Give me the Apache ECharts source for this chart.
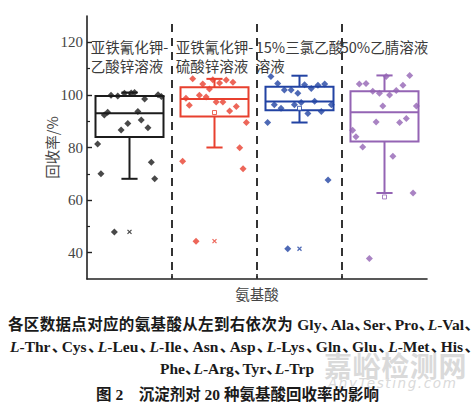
<!DOCTYPE html>
<html><head><meta charset="utf-8">
<script src="https://cdn.jsdelivr.net/npm/echarts@6/dist/echarts.min.js"></script>
<style>
html,body{margin:0;padding:0;background:#fff;}
#wrap{position:relative;width:476px;height:406px;overflow:hidden;background:#fff;}
#chart{position:absolute;left:0;top:0;width:476px;height:406px;}
.cap{position:absolute;white-space:nowrap;font-weight:700;color:#1a1a1a;font-family:"Liberation Serif","Noto Sans CJK SC",serif;font-size:15.5px;line-height:16px;}
.cap i{font-style:italic;}
.just{text-align:justify;text-align-last:justify;}
.ctr{display:inline-block;transform:translateX(-50%);}
.dun{letter-spacing:-7px;}
.wm{position:absolute;color:#dadada;white-space:nowrap;}
</style></head>
<body>
<div id="wrap">
  <div class="wm" style="left:324px;top:356px;font-family:'Noto Sans CJK SC';font-size:28px;line-height:18px;font-weight:700;letter-spacing:0.6px;">嘉峪检测网</div>
  <div class="wm" style="left:328px;top:378px;font-family:'DejaVu Sans';font-style:italic;font-size:13.5px;line-height:10px;letter-spacing:1.6px;">AnyTesting.com</div>
  <div id="chart"></div>
  <div id="l1" class="cap just" style="left:8px;top:317px;width:465px;"></div>
  <div id="l2" class="cap just" style="left:10px;top:338.7px;width:463px;"></div>
  <div id="l3" class="cap ctr" style="left:237px;top:361px;"></div>
  <div id="l4" class="cap ctr" style="left:237.5px;top:387px;"></div>
</div>
<script>
// ---------- data ----------
const groupLabels = [['亚铁氰化钾-', '乙酸锌溶液'], ['亚铁氰化钾-', '硫酸锌溶液'], ['15%三氯乙酸', '溶液'], ['50%乙腈溶液']];
const aminoAcids = ['Gly', 'Ala', 'Ser', 'Pro', 'L-Val', 'L-Thr', 'Cys', 'L-Leu', 'L-Ile', 'Asn', 'Asp', 'L-Lys', 'Gln', 'Glu', 'L-Met', 'His', 'Phe', 'L-Arg', 'Tyr', 'L-Trp'];
const recoveryFerroZnAc = [81.3, 70.0, 92.4, 93.4, 99.9, 47.9, 99.6, 86.7, 100.6, 89.1, 100.7, 100.9, 93.7, 90.5, 98.4, 87.5, 74.4, 68.1, 100.1, 99.4];
const recoveryFerroZnSO4 = [74.8, 98.7, 96.1, 106.1, 44.4, 99.9, 104.1, 99.2, 102.2, 105.8, 97.3, 104.5, 97.3, 105.7, 93.9, 104.8, 95.6, 79.9, 71.9, 89.5];
const recoveryTCA = [89.5, 107.0, 96.3, 104.3, 94.9, 101.9, 41.5, 101.9, 96.3, 100.6, 97.1, 103.9, 92.9, 102.4, 97.6, 103.7, 93.7, 104.1, 67.6, 96.3];
const recoveryACN = [86.6, 84.1, 104.1, 80.2, 104.3, 37.8, 101.4, 89.7, 100.6, 95.8, 107.0, 100.0, 76.7, 101.7, 89.5, 103.7, 91.0, 107.4, 62.7, 95.8];
const boxLow = [68.1, 80.0, 89.5, 62.7];
const boxQ1 = [84.0, 91.8, 94.2, 82.3];
const boxMedian = [93.0, 98.4, 97.5, 93.4];
const boxQ3 = [99.6, 102.9, 103.1, 101.4];
const boxHigh = [100.9, 106.1, 107.3, 107.4];
const meanMarks = [null, 93.3, 94.9, 61.2];
const crossMarks = [47.9, 44.4, 41.5, null];
const yTickLabels = [40, 60, 80, 100, 120];
const yMinorTicks = [50, 70, 90, 110];
const dividers = [1, 2, 3];
const captionTitle = '图 2　沉淀剂对 20 种氨基酸回收率的影响';
const captionLead = '各区数据点对应的氨基酸从左到右依次为 ';

// ---------- styles ----------
const colors = ['#1c1c1c', '#e8402f', '#2243a3', '#9464b4'];
const allSeries = [recoveryFerroZnAc, recoveryFerroZnSO4, recoveryTCA, recoveryACN];
const labelFont = '14.5px "Noto Sans CJK SC"';
const measureCtx = document.createElement('canvas').getContext('2d');
measureCtx.font = labelFont;

// caption
function fmtAA(a) { return a.indexOf('L-') === 0 ? '<i>L</i>-' + a.slice(2) : a; }
const dun = '<span class="dun">、</span>';
document.getElementById('l1').innerHTML = captionLead + aminoAcids.slice(0, 5).map(fmtAA).join(dun) + dun;
document.getElementById('l2').innerHTML = aminoAcids.slice(5, 16).map(fmtAA).join(dun) + dun;
document.getElementById('l3').innerHTML = aminoAcids.slice(16).map(fmtAA).join(dun);
document.getElementById('l4').textContent = captionTitle;

const chart = echarts.init(document.getElementById('chart'), null, { renderer: 'svg' });

function renderBox(params, api) {
  const g = api.value(0);
  const c = colors[g];
  const p = [1, 2, 3, 4, 5].map(k => api.coord([g, api.value(k)]));
  const cx = p[0][0];
  const band = api.size([1, 0])[0];
  const hw = band * 0.4, cap = band * 0.095;
  const ls = { stroke: c, lineWidth: 2, fill: 'none' };
  return {
    type: 'group', children: [
      { type: 'line', shape: { x1: cx, y1: p[3][1], x2: cx, y2: p[4][1] }, style: ls },
      { type: 'line', shape: { x1: cx, y1: p[1][1], x2: cx, y2: p[0][1] }, style: ls },
      { type: 'line', shape: { x1: cx - cap, y1: p[4][1], x2: cx + cap, y2: p[4][1] }, style: ls },
      { type: 'line', shape: { x1: cx - cap, y1: p[0][1], x2: cx + cap, y2: p[0][1] }, style: ls },
      { type: 'rect', shape: { x: cx - hw, y: p[3][1], width: 2 * hw, height: p[1][1] - p[3][1] }, style: ls },
      { type: 'line', shape: { x1: cx - hw, y1: p[2][1], x2: cx + hw, y2: p[2][1] }, style: ls }
    ]
  };
}

function renderLabel(params, api) {
  const g = api.value(0);
  const lines = groupLabels[g];
  const top = api.coord([g, 118.3]);
  const w1 = measureCtx.measureText(lines[0]).width;
  const x0 = top[0] - w1 / 2;
  const children = lines.map((t, k) => ({
    type: 'text', x: x0, y: top[1] + k * 18.5,
    style: { text: t, font: labelFont, fill: '#3a3a3a', align: 'left', verticalAlign: 'middle' }
  }));
  return { type: 'group', children };
}

const pointSeries = allSeries.map((vals, g) => ({
  type: 'scatter', xAxisIndex: 1, yAxisIndex: 0,
  symbol: 'diamond', symbolSize: 7,
  itemStyle: { color: colors[g] },
  z: 5,
  data: vals.map((v, i) => [g + 0.5 + (i - (aminoAcids.length - 1) / 2) * 0.0395, v]),
  markLine: g === 0 ? {
    silent: true, symbol: ['none', 'none'], animation: false,
    label: { show: false },
    lineStyle: { color: '#333', width: 2, type: [8, 6] },
    data: dividers.map(d => [{ coord: [d, 127] }, { coord: [d, 30] }])
  } : undefined
}));

chart.setOption({
  animation: false,
  grid: { left: 87, right: 49, top: 16, bottom: 127 },
  xAxis: [
    { type: 'category', data: groupLabels.map(l => l.join('')), show: false, boundaryGap: true },
    {
      type: 'value', min: 0, max: 4, position: 'bottom',
      axisLine: { show: true, lineStyle: { color: '#222', width: 1.6 } },
      axisTick: { show: true, inside: true, length: 5, customValues: dividers, lineStyle: { color: '#222', width: 1.6 } },
      axisLabel: { show: false },
      splitLine: { show: false },
      name: '氨基酸', nameLocation: 'middle', nameGap: 7,
      nameTextStyle: { fontSize: 14.5, color: '#444', fontFamily: 'Noto Sans CJK SC', verticalAlign: 'top' }
    }
  ],
  yAxis: [
    {
      type: 'value', min: 30, max: 130,
      axisLine: { show: true, lineStyle: { color: '#222', width: 1.6 } },
      axisTick: { show: true, inside: true, length: 5, customValues: yTickLabels, lineStyle: { color: '#222', width: 1.4 } },
      axisLabel: { customValues: yTickLabels, fontFamily: 'Liberation Serif', fontSize: 15, color: '#444', margin: 4 },
      splitLine: { show: false },
      name: '回收率/%', nameLocation: 'middle', nameGap: 28, nameMoveOverlap: false,
      nameTextStyle: { fontSize: 14.5, color: '#444', fontFamily: 'Noto Sans CJK SC' }
    },
    {
      type: 'value', min: 30, max: 130, position: 'left',
      axisLine: { show: false },
      axisTick: { show: true, inside: true, length: 3, customValues: yMinorTicks, lineStyle: { color: '#222', width: 1.2 } },
      axisLabel: { show: false },
      splitLine: { show: false }
    }
  ],
  series: [
    {
      type: 'custom', xAxisIndex: 0, yAxisIndex: 0, renderItem: renderBox, z: 3,
      data: boxLow.map((v, g) => [g, boxLow[g], boxQ1[g], boxMedian[g], boxQ3[g], boxHigh[g]])
    },
    {
      type: 'custom', xAxisIndex: 0, yAxisIndex: 0, renderItem: renderLabel, z: 6, silent: true,
      data: groupLabels.map((l, g) => [g, 118.3])
    },
    ...pointSeries,
    {
      type: 'scatter', xAxisIndex: 0, yAxisIndex: 0, symbol: 'rect', symbolSize: 4, z: 6,
      data: meanMarks.map((v, g) => v == null ? null : ({ value: [g, v], itemStyle: { color: '#fff', borderColor: colors[g], borderWidth: 1 } })).filter(d => d)
    },
    {
      type: 'scatter', xAxisIndex: 0, yAxisIndex: 0, symbol: 'path://M0,0L10,10M10,0L0,10', symbolSize: 4, z: 6,
      data: crossMarks.map((v, g) => v == null ? null : ({ value: [g, v], itemStyle: { color: 'none', borderColor: colors[g], borderWidth: 1.2 } })).filter(d => d)
    }
  ]
});
</script>
</body></html>
